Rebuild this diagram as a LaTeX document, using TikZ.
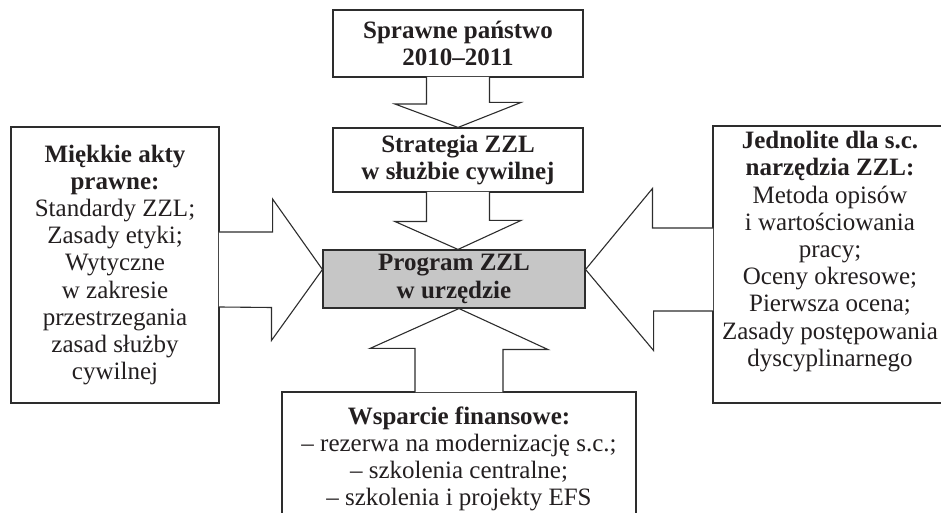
\documentclass[tikz,border=0pt]{standalone}
\usepackage{fontspec}
\setmainfont{Liberation Serif}
\usetikzlibrary{calc}
\definecolor{zzedge}{RGB}{45,45,45}
\definecolor{zzgray}{RGB}{198,198,198}
\definecolor{zzink}{RGB}{35,31,32}
\newcommand{\hd}[1]{\textbf{#1}}
\tikzset{
  zzbox/.style={
    draw=zzedge, line width=1.1pt, fill=white,
    inner sep=0pt, align=center, text=zzink
  },
  zzmain/.style={zzbox, fill=zzgray},
  zztext/.style={inner sep=0pt, align=center, text=zzink},
  blk/.style={draw=zzedge, fill=white, line width=1.1pt, line join=miter},
  every picture/.append style={font=\fontsize{25}{27.2}\selectfont}
}
\begin{document}
\begin{tikzpicture}[x=1pt,y=1pt]
  \useasboundingbox (0,0) rectangle (941,513);
  \clip (0,0) rectangle (941,513);

  % boxes
  \node[zzbox, minimum width=250pt, minimum height=67pt] (top) at (458,469.5)
    {\hd{Sprawne państwo}\\\hd{2010--2011}};
  \node[zzbox, minimum width=250pt, minimum height=64pt] (strat) at (458,353)
    {\hd{Strategia ZZL}\\\hd{w służbie cywilnej}};
  \node[zzmain, minimum width=262pt, minimum height=58pt] (prog) at (454,234)
    {\hd{Program ZZL}\\\hd{w urzędzie}};
  \node[zzbox, minimum width=208pt, minimum height=276pt] (soft) at (115,248)
    {\hd{Miękkie akty}\\\hd{prawne:}\\Standardy ZZL;\\Zasady etyki;\\Wytyczne\\
     w zakresie\\przestrzegania\\zasad służby\\cywilnej};
  \node[zzbox, minimum width=234pt, minimum height=277pt] (tools) at (830,248.5) {};
  \node[zztext] (toolstxt) at (830,261.4)
    {\hd{Jednolite dla s.c.}\\\hd{narzędzia ZZL:}\\Metoda opisów\\i wartościowania\\
     pracy;\\Oceny okresowe;\\Pierwsza ocena;\\Zasady postępowania\\dyscyplinarnego};
  \node[zzbox, minimum width=354pt, minimum height=134pt] (fin) at (459,54)
    {\hd{Wsparcie finansowe:}\\-- rezerwa na modernizację s.c.;\\
     -- szkolenia centralne;\\-- szkolenia i projekty EFS};

  \coordinate (ltip) at ($(prog.west)+(0,9.5)$);
  \coordinate (rtip) at ($(prog.east)+(0,9.5)$);

  % block arrows
  \filldraw[blk] ($(top.south)+(-31.5,0.6)$) -- ++(0,-27.1) -- ++(-31.5,0)
    -- (strat.north) -- ++(63,25) -- ++(-31.5,0) -- ($(top.south)+(31.5,0.6)$);
  \filldraw[blk] ($(strat.south)+(-31.5,0.6)$) -- ++(0,-29.6) -- ++(-31.5,0)
    -- (strat.south |- prog.north) -- ++(63,29) -- ++(-31.5,0) -- ($(strat.south)+(31.5,0.6)$);
  \filldraw[blk] ($(fin.north)+(-44,-0.6)$) -- ++(0,43.6) -- ++(-45,0)
    -- (fin.north |- prog.south) -- ++(89,-41) -- ++(-45,0) -- ($(fin.north)+(44,-0.6)$);
  \filldraw[blk] ($(soft.east |- ltip)+(-0.6,37.5)$) -- ++(53.6,0) -- ++(0,33)
    -- (ltip) -- ++(-51,-71) -- ++(0,33) -- ($(soft.east |- ltip)+(-0.6,-37.5)$);
  \filldraw[blk] ($(tools.west |- rtip)+(0.6,41.5)$) -- ++(-60.6,0) -- ++(0,39.5)
    -- (rtip) -- ++(68,-81) -- ++(0,39.5) -- ($(tools.west |- rtip)+(0.6,-41.5)$);
\end{tikzpicture}
\end{document}
